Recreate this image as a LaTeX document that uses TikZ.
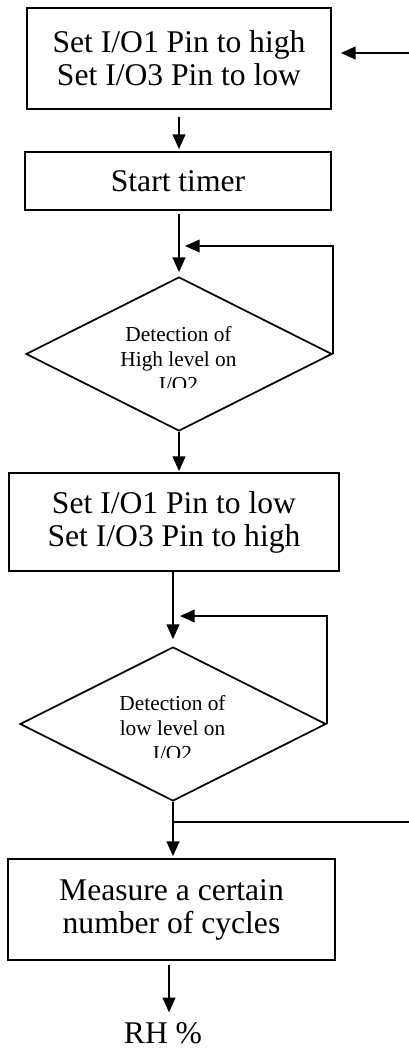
\documentclass[tikz,border=0pt]{standalone}
\usepackage{fontspec}
\setmainfont{Liberation Serif}
\usetikzlibrary{shapes.geometric,arrows.meta}
\begin{document}
\begin{tikzpicture}[x=0.75pt,y=-0.75pt,
  box/.style={draw,line width=1.3pt,inner sep=0pt,align=center,
    font=\fontsize{23.7}{24.75}\selectfont},
  dec/.style={draw,diamond,line width=1.3pt,inner sep=0pt,
    minimum width=229.5pt,minimum height=115.5pt},
  dtext/.style={align=center,inner sep=0pt,
    font=\fontsize{16}{18.75}\selectfont},
  arr/.style={line width=1.3pt,-{Triangle[length=11pt,width=9.5pt]}},
  ln/.style={line width=1.3pt}]
\useasboundingbox (0,0) rectangle (409,1048);

% nodes
\node[box,minimum width=228pt,minimum height=75.75pt] (b1) at (179,58.5)
  {Set I/O1 Pin to high\\Set I/O3 Pin to low};
\node[box,minimum width=229.5pt,minimum height=43.5pt] (b2) at (178,181)
  {Start timer};
\node[dec] (d1) at (179,354) {};
\begin{scope}
  \clip (0,0) rectangle (409,387);
  \node[dtext,anchor=base] (t1) at (178.5,391) {Detection of\\High level on\\I/O2};
\end{scope}
\node[box,minimum width=247.5pt,minimum height=73.5pt] (b3) at (174,522)
  {Set I/O1 Pin to low\\Set I/O3 Pin to high};
\node[dec] (d2) at (173,724) {};
\begin{scope}
  \clip (0,600) rectangle (409,757);
  \node[dtext,anchor=base] (t2) at (172.5,760) {Detection of\\low level on\\I/O2};
\end{scope}
\node[box,minimum width=245.25pt,minimum height=75.75pt] (b4) at (171.5,909.5)
  {Measure a certain\\number of cycles};
\node[inner sep=0pt,anchor=base,font=\fontsize{23.7}{24.75}\selectfont] (rh) at (163,1043) {RH \%};

% free ends
\coordinate (in1) at (409,53);
\coordinate (f1) at (185,246);
\coordinate (f2) at (180,616);
\coordinate (out) at (409,822);

% connectors
\draw[arr,shorten >=6.75pt] (in1) -- (in1 -| b1.east);
\draw[arr,shorten <=5.25pt,shorten >=1.5pt] (b1.south) -- (b1.south |- b2.north);
\draw[arr,shorten <=2.25pt,shorten >=3pt] (d1.north |- b2.south) -- (d1.north);
\draw[arr] (d1.east) |- (f1);
\draw[arr,shorten >=0.75pt] (d1.south) -- (d1.south |- b3.north);
\draw[arr,shorten >=5.25pt] (b3.south -| d2.north) -- (d2.north);
\draw[arr] (d2.east) |- (f2);
\draw[arr,shorten >=1.5pt] (d2.south) -- (d2.south |- b4.north);
\draw[ln] (d2.south |- out) -- (out);
\draw[arr,shorten <=3pt,shorten >=7pt] ([xshift=4.5pt]rh.north |- b4.south) -- ([xshift=4.5pt]rh.north);
\end{tikzpicture}
\end{document}
